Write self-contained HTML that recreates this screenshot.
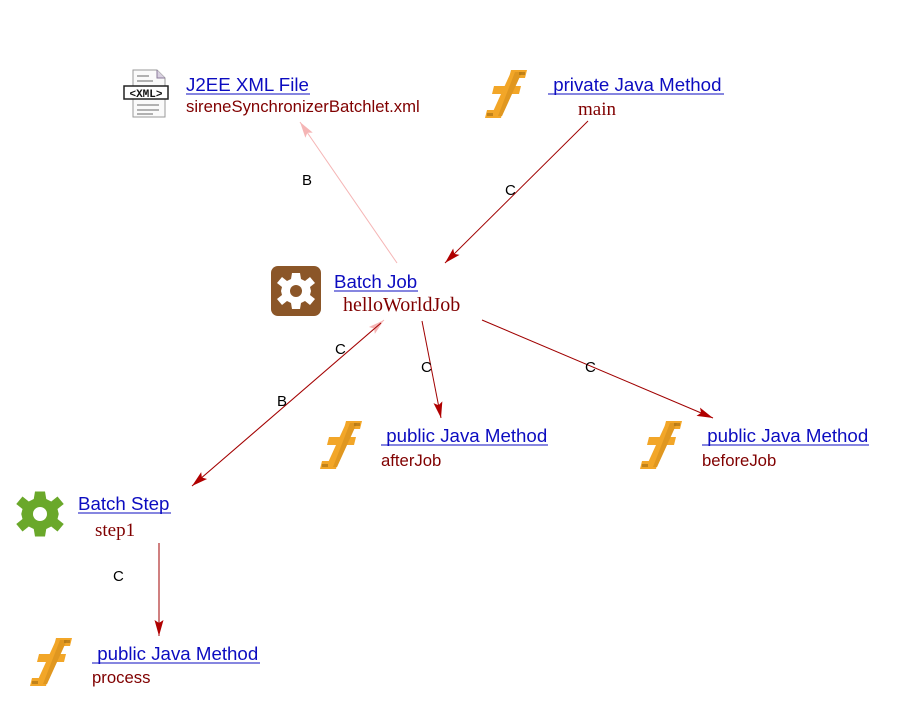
<!DOCTYPE html>
<html>
<head>
<meta charset="utf-8">
<style>
  html,body{margin:0;padding:0;background:#fff;}
  svg{display:block;}
  .t{font-family:"Liberation Sans",Arial,sans-serif;font-size:18.7px;fill:#0c0cc0;}
  .s{font-family:"Liberation Sans",Arial,sans-serif;font-size:16.7px;fill:#800000;}
  .sr{font-family:"Liberation Serif","Times New Roman",serif;font-size:19px;fill:#800000;}
  .l{font-family:"Liberation Sans",Arial,sans-serif;font-size:15px;fill:#000;}
</style>
</head>
<body>
<svg width="901" height="720" viewBox="0 0 901 720" xmlns="http://www.w3.org/2000/svg">
  <defs>
    <marker id="ar" markerWidth="17" markerHeight="11" refX="16" refY="5.5" orient="auto" markerUnits="userSpaceOnUse">
      <path d="M0,1 L16,5.5 L0,10 L3,5.5 z" fill="#b00000"/>
    </marker>
    <marker id="ap" markerWidth="17" markerHeight="11" refX="16" refY="5.5" orient="auto" markerUnits="userSpaceOnUse">
      <path d="M0,1 L16,5.5 L0,10 L3,5.5 z" fill="#f5b5b5"/>
    </marker>
    <g id="fic">
      <polygon points="6,46 17,46 37,2 26,2" fill="#f2a628"/>
      <polygon points="26,0 42,0 40,8 24,8" fill="#f2a628"/>
      <polygon points="9,16 36,16 34,24 7,24" fill="#f2a628"/>
      <polygon points="2,40 18,40 16,48 0,48" fill="#f2a628"/>
      <polygon points="30,2 37,2 17,46 13,46" fill="#c98416" opacity="0.45"/>
      <rect x="34" y="2" width="6" height="3" fill="#a06a10" opacity="0.6"/>
      <rect x="2" y="43" width="6" height="3" fill="#a06a10" opacity="0.6"/>
    </g>
    <g id="gear">
      <path d="M-4,-18 L4,-18 L5,-12 L9,-10 L14,-14 L19,-8 L14,-4 L15,0 L14,4 L19,8 L14,14 L9,10 L5,12 L4,18 L-4,18 L-5,12 L-9,10 L-14,14 L-19,8 L-14,4 L-15,0 L-14,-4 L-19,-8 L-14,-14 L-9,-10 L-5,-12 z"/>
    </g>
  </defs>

  <!-- Edges -->
  <line x1="397" y1="263" x2="300" y2="122" stroke="#f5b5b5" stroke-width="1" marker-end="url(#ap)"/>
  <line x1="588" y1="121" x2="445" y2="263" stroke="#a00000" stroke-width="1" marker-end="url(#ar)"/>
  <line x1="192" y1="486" x2="384" y2="320" stroke="#f5b5b5" stroke-width="1" marker-end="url(#ap)"/>
  <line x1="381" y1="323" x2="192" y2="486" stroke="#a00000" stroke-width="1" marker-end="url(#ar)"/>
  <line x1="422" y1="321" x2="441" y2="418" stroke="#a00000" stroke-width="1" marker-end="url(#ar)"/>
  <line x1="482" y1="320" x2="713" y2="418" stroke="#a00000" stroke-width="1" marker-end="url(#ar)"/>
  <line x1="159" y1="543" x2="159" y2="636" stroke="#a00000" stroke-width="1" marker-end="url(#ar)"/>

  <!-- Edge labels -->
  <text class="l" x="302" y="185">B</text>
  <text class="l" x="505" y="195">C</text>
  <text class="l" x="335" y="354">C</text>
  <text class="l" x="277" y="406">B</text>
  <text class="l" x="421" y="372">C</text>
  <text class="l" x="585" y="372">C</text>
  <text class="l" x="113" y="581">C</text>

  <!-- XML file icon -->
  <g transform="translate(123,68)">
    <path d="M10,2 L34,2 L42,10 L42,49 L10,49 z" fill="#fafafa" stroke="#9a9a9a" stroke-width="1"/>
    <path d="M34,2 L34,10 L42,10" fill="#d8d0e0" stroke="#8a7a9a" stroke-width="1"/>
    <line x1="14" y1="8" x2="26" y2="8" stroke="#999" stroke-width="1.5"/>
    <line x1="14" y1="13" x2="30" y2="13" stroke="#999" stroke-width="1.5"/>
    <rect x="1" y="18" width="44" height="13" fill="#fff" stroke="#222" stroke-width="1.5"/>
    <text x="23" y="29" text-anchor="middle" font-family="Liberation Mono, monospace" font-size="11" font-weight="bold" fill="#111">&lt;XML&gt;</text>
    <line x1="14" y1="37" x2="36" y2="37" stroke="#999" stroke-width="1.5"/>
    <line x1="14" y1="42" x2="36" y2="42" stroke="#999" stroke-width="1.5"/>
    <line x1="14" y1="46" x2="30" y2="46" stroke="#999" stroke-width="1.5"/>
  </g>
  <text class="t" x="186" y="91">J2EE XML File</text>
  <line x1="186" y1="94" x2="310" y2="94" stroke="#0c0cc0" stroke-width="1"/>
  <text class="s" x="186" y="112">sireneSynchronizerBatchlet.xml</text>

  <!-- private Java Method main -->
  <use href="#fic" x="485" y="70"/>
  <text class="t" x="548" y="91" xml:space="preserve"> private Java Method</text>
  <line x1="548" y1="94" x2="724" y2="94" stroke="#0c0cc0" stroke-width="1"/>
  <text class="sr" x="578" y="115">main</text>

  <!-- Batch Job -->
  <rect x="271" y="266" width="50" height="50" rx="7" fill="#8b5628"/>
  <g transform="translate(296,291)" fill="#fff"><use href="#gear"/></g>
  <circle cx="296" cy="291" r="6" fill="#8b5628"/>
  <text class="t" x="334" y="288">Batch Job</text>
  <line x1="334" y1="291" x2="418" y2="291" stroke="#0c0cc0" stroke-width="1"/>
  <text class="sr" x="343" y="311" style="font-size:20px">helloWorldJob</text>

  <!-- afterJob -->
  <use href="#fic" x="320" y="421"/>
  <text class="t" x="381" y="442" xml:space="preserve"> public Java Method</text>
  <line x1="381" y1="445" x2="548" y2="445" stroke="#0c0cc0" stroke-width="1"/>
  <text class="s" x="381" y="466">afterJob</text>

  <!-- beforeJob -->
  <use href="#fic" x="640" y="421"/>
  <text class="t" x="702" y="442" xml:space="preserve"> public Java Method</text>
  <line x1="702" y1="445" x2="869" y2="445" stroke="#0c0cc0" stroke-width="1"/>
  <text class="s" x="702" y="466">beforeJob</text>

  <!-- Batch Step -->
  <g transform="translate(40,514) scale(1.25)" fill="#6aa82a"><use href="#gear"/></g>
  <circle cx="40" cy="514" r="7" fill="#fff"/>
  <text class="t" x="78" y="510">Batch Step</text>
  <line x1="78" y1="513" x2="171" y2="513" stroke="#0c0cc0" stroke-width="1"/>
  <text class="sr" x="95" y="536">step1</text>

  <!-- process -->
  <use href="#fic" x="30" y="638"/>
  <text class="t" x="92" y="660" xml:space="preserve"> public Java Method</text>
  <line x1="92" y1="663" x2="260" y2="663" stroke="#0c0cc0" stroke-width="1"/>
  <text class="s" x="92" y="683">process</text>
</svg>
</body>
</html>
